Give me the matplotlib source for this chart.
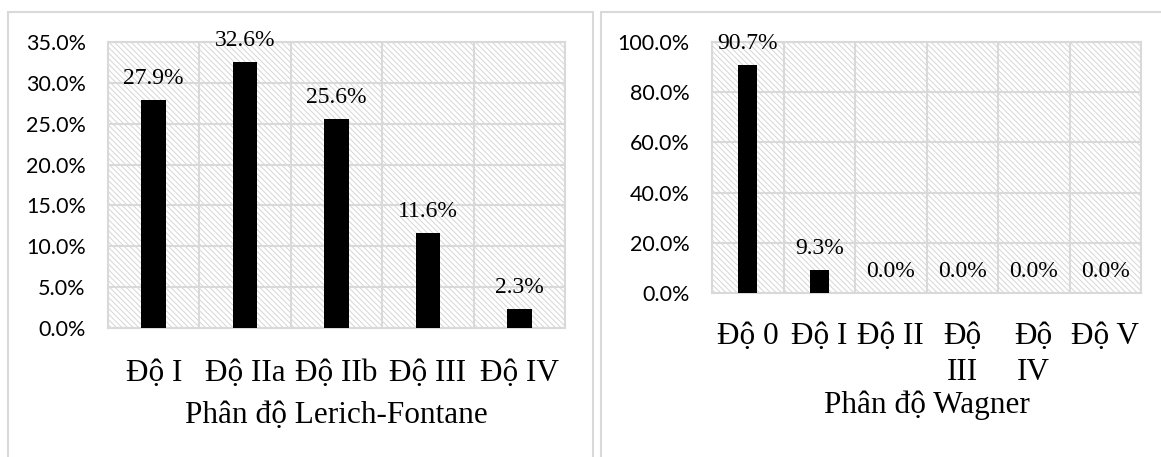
import matplotlib
matplotlib.use("Agg")
import matplotlib.pyplot as plt
from matplotlib.patches import Rectangle
from matplotlib.ticker import FuncFormatter, MultipleLocator, FixedLocator
import numpy as np

# ---- data ----
lf_categories = ["Độ I", "Độ IIa", "Độ IIb", "Độ III", "Độ IV"]
lf_values = [27.9, 32.6, 25.6, 11.6, 2.3]
lf_title = "Phân độ Lerich-Fontane"

wg_categories = ["Độ 0", "Độ I", "Độ II", "Độ\nIII", "Độ\nIV", "Độ V"]
wg_values = [90.7, 9.3, 0.0, 0.0, 0.0, 0.0]
wg_title = "Phân độ Wagner"

W, H = 1161, 457
DPI = 100
plt.rcParams['hatch.linewidth'] = 0.7
fig = plt.figure(figsize=(W / DPI, H / DPI), dpi=DPI)
fig.patch.set_facecolor("white")

GRID = "#d9d9d9"
HATCH = "#d6d6d6"
SERIF = "Liberation Serif"
SANS = "Lato"


def px_rect(x0, y0, x1, y1):
    return [x0 / W, 1 - y1 / H, (x1 - x0) / W, (y1 - y0) / H]


# panel boxes
for (x0, x1) in [(8, 593), (601, 1175)]:
    fig.add_artist(Rectangle((x0 / W, -0.05), (x1 - x0) / W, 1.05 - 12 / H,
                             transform=fig.transFigure, fill=False,
                             edgecolor=GRID, linewidth=1.5))


def make_panel(rect, cats, vals, ymax, ystep, title, tickpad, labelpad):
    ax = fig.add_axes(rect)
    ax.set_facecolor("white")
    ax.add_patch(Rectangle((0, 0), 1, 1, transform=ax.transAxes, fill=False,
                           hatch='\\\\\\\\\\\\', edgecolor=HATCH, linewidth=0,
                           zorder=0))
    x = np.arange(len(cats))
    bars = ax.bar(x, vals, width=0.27, color="black", zorder=3)
    ax.set_xlim(-0.5, len(cats) - 0.5)
    ax.set_ylim(0, ymax)
    ax.yaxis.set_major_locator(MultipleLocator(ystep))
    ax.yaxis.set_major_formatter(FuncFormatter(lambda v, p: f"{v:.1f}%"))
    ax.set_xticks(x)
    ax.set_xticklabels(cats, fontfamily=SERIF, fontsize=22.5, linespacing=1.3)
    ax.xaxis.set_minor_locator(FixedLocator(np.arange(-0.5, len(cats), 1.0)))
    ax.tick_params(axis='x', which='both', length=0, pad=tickpad)
    ax.tick_params(axis='y', length=0, pad=16, labelsize=15.5)
    for lab in ax.get_yticklabels():
        lab.set_fontfamily(SANS)
    ax.grid(True, axis='y', which='major', color=GRID, linewidth=1.5, zorder=1)
    ax.grid(True, axis='x', which='minor', color=GRID, linewidth=1.5, zorder=1)
    ax.set_axisbelow(True)
    for s in ax.spines.values():
        s.set_color(GRID)
        s.set_linewidth(1.5)
    ax.bar_label(bars, labels=[f"{v:.1f}%" for v in vals], padding=8,
                 fontfamily=SERIF, fontsize=17, zorder=4)
    ax.set_xlabel(title, fontfamily=SERIF, fontsize=22.5, labelpad=labelpad)
    return ax


make_panel(px_rect(108, 42, 565, 328), lf_categories, lf_values, 35, 5,
           lf_title, 22, 10)
make_panel(px_rect(712, 42, 1141, 293), wg_categories, wg_values, 100, 20,
           wg_title, 21, 3)

fig.savefig("out.png", dpi=DPI, facecolor="white")
